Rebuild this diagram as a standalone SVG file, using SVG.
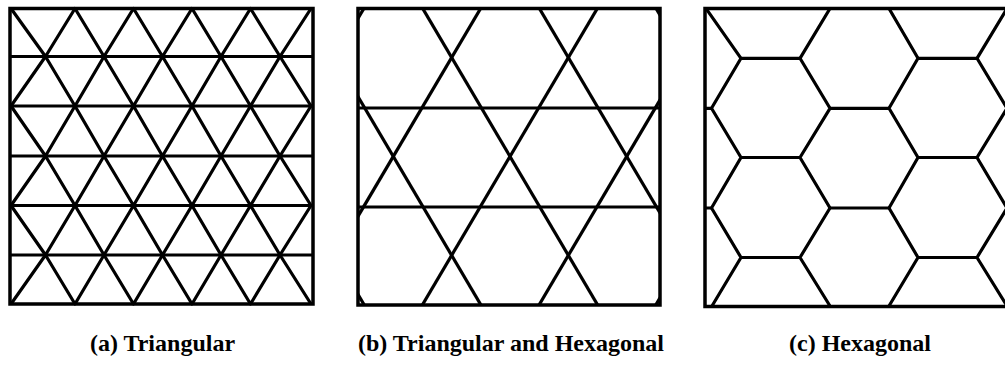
<svg xmlns="http://www.w3.org/2000/svg" width="1005" height="370" viewBox="0 0 1005 370">
<style>
.ln{fill:none;stroke:#000;stroke-width:3.2;stroke-linejoin:round;stroke-linecap:butt}
.bx{fill:none;stroke:#000;stroke-width:3.5}
.cap{font-family:"Liberation Serif","Times New Roman",serif;font-weight:bold;font-size:24px;fill:#000;text-anchor:middle}
</style>
<defs>
<clipPath id="clipB"><rect x="358" y="8.5" width="302" height="296.5"/></clipPath>
<clipPath id="clipC"><rect x="705" y="8.5" width="320" height="298"/></clipPath>
</defs>
<rect width="1005" height="370" fill="#fff"/>

<g id="panel-a">
<g class="ln">
<polyline points="11,8.5 45.5,56.5 75,8.5 104,56.5 133.5,8.5 162.5,56.5 192,8.5 221,56.5 250.5,8.5 280,56.5 311,8.5"/>
<polyline points="11,106 45.5,56.5 75,106 104,56.5 133.5,106 162.5,56.5 192,106 221,56.5 250.5,106 280,56.5 311,106"/>
<polyline points="11,106 45.5,156 75,106 104,156 133.5,106 162.5,156 192,106 221,156 250.5,106 280,156 311,106"/>
<polyline points="11,205.5 45.5,156 75,205.5 104,156 133.5,205.5 162.5,156 192,205.5 221,156 250.5,205.5 280,156 311,205.5"/>
<polyline points="11,205.5 45.5,255 75,205.5 104,255 133.5,205.5 162.5,255 192,205.5 221,255 250.5,205.5 280,255 311,205.5"/>
<polyline points="11,304 45.5,255 75,304 104,255 133.5,304 162.5,255 192,304 221,255 250.5,304 280,255 311,304"/>
<line x1="10" y1="56.5" x2="313" y2="56.5"/>
<line x1="10" y1="106" x2="313" y2="106"/>
<line x1="10" y1="156" x2="313" y2="156"/>
<line x1="10" y1="205.5" x2="313" y2="205.5"/>
<line x1="10" y1="255" x2="313" y2="255"/>
</g>
<rect class="bx" x="10" y="8.5" width="303" height="295.5"/>
</g>

<g id="panel-b">
<g class="ln" clip-path="url(#clipB)">
<line x1="398.4" y1="-50" x2="156.5" y2="360"/>
<line x1="515.1" y1="-50" x2="273.2" y2="360"/>
<line x1="631.8" y1="-50" x2="389.9" y2="360"/>
<line x1="748.5" y1="-50" x2="506.6" y2="360"/>
<line x1="865.2" y1="-50" x2="623.3" y2="360"/>
<line x1="154.8" y1="-50" x2="396.7" y2="360"/>
<line x1="271.5" y1="-50" x2="513.4" y2="360"/>
<line x1="388.2" y1="-50" x2="630.1" y2="360"/>
<line x1="504.9" y1="-50" x2="746.8" y2="360"/>
<line x1="621.6" y1="-50" x2="863.5" y2="360"/>
<line x1="358" y1="108" x2="660" y2="108"/>
<line x1="358" y1="207" x2="660" y2="207"/>
</g>
<rect class="bx" x="358" y="8.5" width="302" height="296.5"/>
</g>

<g id="panel-c">
<g class="ln" clip-path="url(#clipC)">
<polyline points="706,8.5 741,58.3 711.5,108.3 741,157.5 711.5,208 741,257.5 712,306"/>
<polyline points="830,8.5 800,58.3 830,108.3 800,157.5 830,208 800,257.5 830,306"/>
<polyline points="889,8.5 918,58.3 889,108.3 918,157.5 889,208 918,257.5 889,306"/>
<polyline points="1007,8.5 977,58.3 1007,108.3 977,157.5 1007,208 977,257.5 1007,306"/>
<line x1="705" y1="108.3" x2="711.5" y2="108.3"/>
<line x1="705" y1="208" x2="711.5" y2="208"/>
<line x1="741" y1="58.3" x2="800" y2="58.3"/>
<line x1="741" y1="157.5" x2="800" y2="157.5"/>
<line x1="741" y1="257.5" x2="800" y2="257.5"/>
<line x1="830" y1="108.3" x2="889" y2="108.3"/>
<line x1="830" y1="208" x2="889" y2="208"/>
<line x1="918" y1="58.3" x2="977" y2="58.3"/>
<line x1="918" y1="157.5" x2="977" y2="157.5"/>
<line x1="918" y1="257.5" x2="977" y2="257.5"/>
<line x1="1007" y1="108.3" x2="1066" y2="108.3"/>
<line x1="1007" y1="208" x2="1066" y2="208"/>
</g>
<rect class="bx" x="705" y="8.5" width="320" height="298"/>
</g>

<g id="captions">
<text class="cap" x="162.5" y="351">(a) Triangular</text>
<text class="cap" x="511" y="351">(b) Triangular and Hexagonal</text>
<text class="cap" x="860" y="351">(c) Hexagonal</text>
</g>
</svg>
